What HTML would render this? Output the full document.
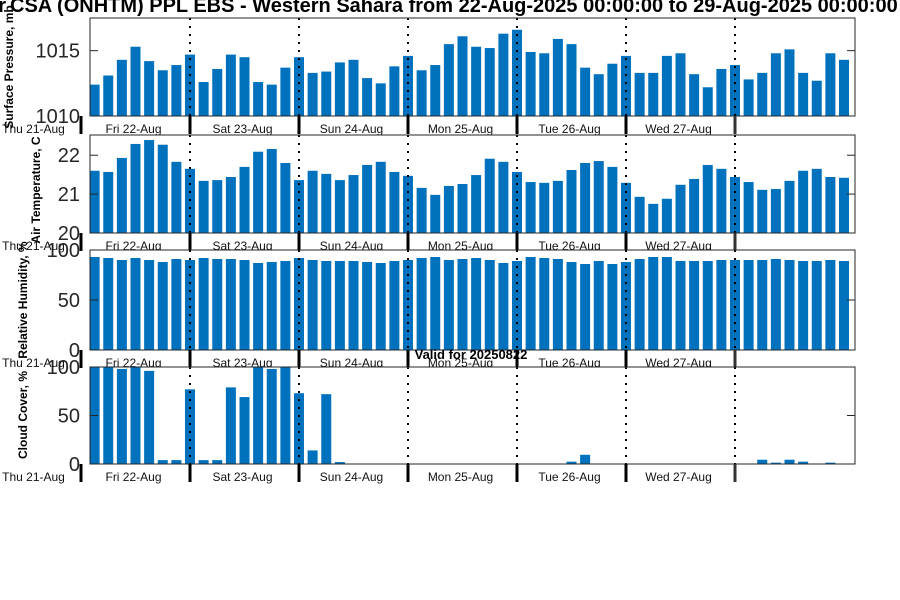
<!DOCTYPE html>
<html><head><meta charset="utf-8"><style>
body{margin:0;background:#fff;}
svg{display:block;font-family:"Liberation Sans","DejaVu Sans",sans-serif;}
</style></head><body>
<svg id="chart" width="900" height="600" viewBox="0 0 900 600">
<text x="8" y="12" font-size="20" font-weight="bold" fill="#000"><tspan text-anchor="end" x="6">Forecast for</tspan><tspan x="10">CSA (ONHTM) PPL EBS  - Western Sahara from 22-Aug-2025 00:00:00 to 29-Aug-2025 00:00:00</tspan></text>
<g id="panels"></g>
<text x="471" y="359" font-size="13" font-weight="bold" text-anchor="middle">Valid for 20250822</text>
</svg>
<script>
const dayLabels=["Thu 21-Aug","Fri 22-Aug","Sat 23-Aug","Sun 24-Aug","Mon 25-Aug","Tue 26-Aug","Wed 27-Aug"];
const pressure=[1012.4,1013.1,1014.3,1015.3,1014.2,1013.5,1013.9,1014.7,1012.6,1013.6,1014.7,1014.5,1012.6,1012.4,1013.7,1014.5,1013.3,1013.4,1014.1,1014.3,1012.9,1012.5,1013.8,1014.6,1013.5,1013.9,1015.5,1016.1,1015.3,1015.2,1016.3,1016.6,1014.9,1014.8,1015.9,1015.5,1013.7,1013.2,1014.0,1014.6,1013.3,1013.3,1014.6,1014.8,1013.2,1012.2,1013.6,1013.9,1012.8,1013.3,1014.8,1015.1,1013.3,1012.7,1014.8,1014.3];
const temperature=[21.60,21.57,21.93,22.29,22.39,22.27,21.83,21.65,21.34,21.36,21.44,21.70,22.09,22.16,21.80,21.36,21.60,21.52,21.36,21.49,21.75,21.83,21.57,21.47,21.16,20.98,21.21,21.26,21.49,21.91,21.83,21.57,21.31,21.29,21.34,21.62,21.80,21.85,21.70,21.29,20.93,20.75,20.88,21.24,21.39,21.75,21.65,21.44,21.31,21.11,21.13,21.34,21.60,21.65,21.44,21.42];
const humidity=[93,92,90,92,90,88,91,90,92,91,91,90,87,88,89,92,90,89,89,89,88,87,89,90,92,93,90,91,92,90,87,89,93,92,91,88,86,89,86,88,91,93,93,89,89,89,90,90,90,90,91,90,89,89,90,89];
const cloud=[100,100,98,100,96,4,4,77,4,4,79,69,100,98,100,73,14,72,2,0,0,0,0,0,0,0,0,0,0,0,0,0,0,0,0,2.4,9.5,0,0,0,0,0,0,0,0,0,0,0,0,4.4,1.4,4.4,2.4,0,1.4,0];
const pTicks=[1010,1015];
const tTicks=[20,21,22];
const hTicks=[0,50,100];
const cTicks=[0,50,100];

const NS="http://www.w3.org/2000/svg";
const g=document.getElementById('panels');
const X0=90,X1=855,DAY0=81,PXH=109/24;
function xScale(h){return DAY0+h*PXH;}
function mk(tag,attrs,parent){const e=document.createElementNS(NS,tag);for(const k in attrs)e.setAttribute(k,attrs[k]);(parent||g).appendChild(e);return e;}

const panels=[
 {vals:pressure,ticks:pTicks,min:1010,max:1017.5,top:18,bot:116,name:'pressure',label:'Surface Pressure, mb',lx:13,ly:67},
 {vals:temperature,ticks:tTicks,min:20,max:22.52,top:135,bot:233,name:'temperature',label:'Air Temperature, C',lx:40,ly:190},
 {vals:humidity,ticks:hTicks,min:0,max:100,top:250,bot:350,name:'humidity',label:'Relative Humidity, %',lx:27,ly:300},
 {vals:cloud,ticks:cTicks,min:0,max:100,top:367,bot:464,name:'cloud',label:'Cloud Cover, %',lx:27,ly:415}
];
panels.forEach(p=>{
  const pg=mk('g',{});
  
  
  const y=v=>p.bot-(v-p.min)/(p.max-p.min)*(p.bot-p.top);
  mk('rect',{x:X0,y:p.top,width:X1-X0,height:p.bot-p.top,fill:'#fff'},pg);
  p.vals.forEach((v,i)=>{
    const cx=xScale(3+3*i);
    const yy=Math.max(y(v),p.top);
    const r=mk('rect',{x:cx-5,y:yy,width:10,height:Math.max(0,p.bot-yy),fill:'#0072bd'},pg);
    
    
  });
  for(let d=1;d<=6;d++){
    const x=xScale(24*d);
    mk('line',{x1:x,x2:x,y1:p.top,y2:p.bot,stroke:'#000','stroke-width':2,'stroke-dasharray':'2,6'},pg);
  }
  mk('rect',{x:X0,y:p.top,width:X1-X0,height:p.bot-p.top,fill:'none',stroke:'#262626','stroke-width':1},pg);
  p.ticks.forEach(t=>{
    const ty=y(t);
    mk('line',{x1:X0,x2:X0+8,y1:ty,y2:ty,stroke:'#262626'},pg);
    mk('line',{x1:X1-8,x2:X1,y1:ty,y2:ty,stroke:'#262626'},pg);
    const tl=mk('text',{x:X0-10,y:ty+7,'font-size':20,'text-anchor':'end',fill:'#262626'},pg);
    tl.textContent=t;
    
    
  });
  for(let d=0;d<=6;d++){
    const x=xScale(24*d);
    mk('line',{x1:x,x2:x,y1:p.bot,y2:p.bot+18,stroke:d==6?'#333':'#000','stroke-width':3},pg);
  }
  dayLabels.forEach((lab,i)=>{
    const t=mk('text',{x:xScale(24*(i-1)+12)+(i==0?7:-2),y:p.bot+17,'font-size':12,'text-anchor':'middle',fill:'#111'},pg);
    t.textContent=lab;
    
    
  });
  const yl=mk('text',{x:p.lx,y:p.ly,'font-size':12,'font-weight':'bold','text-anchor':'middle',transform:`rotate(-90 ${p.lx} ${p.ly})`},pg);
  yl.textContent=p.label;
  
  
});
</script>
</body></html>
